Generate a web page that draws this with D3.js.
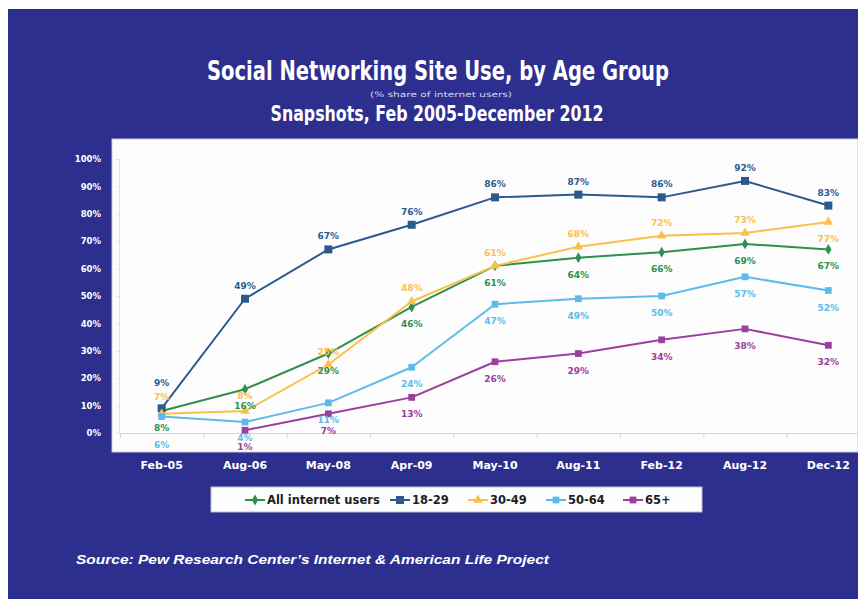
<!DOCTYPE html>
<html>
<head>
<meta charset="utf-8">
<script src="https://cdn.jsdelivr.net/npm/d3@7"></script>
<style>
  body { margin: 0; background: #ffffff; }
  svg { display: block; }
</style>
</head>
<body>
<svg id="chart" width="858" height="599"></svg>
<script>
// Survey dates (x categories)
const categories = ["Feb-05", "Aug-06", "May-08", "Apr-09", "May-10", "Aug-11", "Feb-12", "Aug-12", "Dec-12"];

// Share of internet users who use social networking sites (%)
const allUsers   = [8, 16, 29, 46, 61, 64, 66, 69, 67];
const ages18to29 = [9, 49, 67, 76, 86, 87, 86, 92, 83];
const ages30to49 = [7, 8, 25, 48, 61, 68, 72, 73, 77];
const ages50to64 = [6, 4, 11, 24, 47, 49, 50, 57, 52];
const ages65plus = [null, 1, 7, 13, 26, 29, 34, 38, 32];

const seriesNames = ["All internet users", "18-29", "30-49", "50-64", "65+"];
const yTicks = [0, 10, 20, 30, 40, 50, 60, 70, 80, 90, 100];

const titleText = "Social Networking Site Use, by Age Group";
const subtitleText = "(% share of internet users)";
const snapshotText = "Snapshots, Feb 2005-December 2012";
const sourceText = "Source:  Pew Research Center\u2019s Internet & American Life Project";

// Presentation of each series; labelDy overrides the default label offset
// where neighbouring labels would otherwise collide.
const series = [
  { name: seriesNames[0], values: allUsers,   color: "#2f8f4c", symbol: d3.symbolDiamond,  size: 34, label: "below", labelDy: { 0: 20 } },
  { name: seriesNames[1], values: ages18to29, color: "#2b5a8e", symbol: d3.symbolSquare,   size: 64, label: "above", labelDy: { 0: -22 } },
  { name: seriesNames[2], values: ages30to49, color: "#f9c04c", symbol: d3.symbolTriangle, size: 38, label: "above", labelDy: { 0: -14, 1: -12, 8: 20 } },
  { name: seriesNames[3], values: ages50to64, color: "#5cbbe9", symbol: d3.symbolSquare,   size: 46, label: "below", labelDy: { 0: 31, 1: 19 } },
  { name: seriesNames[4], values: ages65plus, color: "#9a3f9e", symbol: d3.symbolSquare,   size: 46, label: "below", labelDy: { 1: 20 } }
];

const svg = d3.select("#chart");
const W = 858, H = 599;
const BG = "#2d2f8f";

// Page background and blue panel
svg.append("rect").attr("x", 0).attr("y", 0).attr("width", W).attr("height", H).attr("fill", "#ffffff");
svg.append("rect").attr("x", 8).attr("y", 9).attr("width", W - 8).attr("height", H - 9).attr("fill", BG);

// Titles
const titleFont = "'DejaVu Sans', sans-serif";
svg.append("text")
  .attr("x", 438).attr("y", 80)
  .attr("text-anchor", "middle")
  .attr("fill", "#ffffff")
  .attr("font-family", titleFont)
  .attr("font-weight", "bold")
  .attr("font-size", 27)
  .attr("textLength", 462)
  .attr("lengthAdjust", "spacingAndGlyphs")
  .text(titleText);

svg.append("text")
  .attr("x", 441).attr("y", 97)
  .attr("text-anchor", "middle")
  .attr("fill", "#d8d8ee")
  .attr("font-family", titleFont)
  .attr("font-size", 7.5)
  .attr("textLength", 142)
  .attr("lengthAdjust", "spacingAndGlyphs")
  .text(subtitleText);

svg.append("text")
  .attr("x", 437).attr("y", 121)
  .attr("text-anchor", "middle")
  .attr("fill", "#ffffff")
  .attr("font-family", titleFont)
  .attr("font-weight", "bold")
  .attr("font-size", 21)
  .attr("textLength", 333)
  .attr("lengthAdjust", "spacingAndGlyphs")
  .text(snapshotText);

// Plot panel
const plot = { left: 112, top: 139, right: 858, bottom: 452 };
svg.append("rect")
  .attr("x", plot.left).attr("y", plot.top)
  .attr("width", plot.right - plot.left).attr("height", plot.bottom - plot.top)
  .attr("fill", "#fdfdfd")
  .attr("stroke", "#c9c9e6").attr("stroke-width", 1);

// Scales
const x = d3.scaleBand().domain(categories).range([120, 870]).padding(0);
const cx = c => x(c) + x.bandwidth() / 2;
const y = d3.scaleLinear().domain([0, 100]).range([433, 159]);

// Faint inner axes
const innerLeft = svg.append("g")
  .attr("transform", "translate(119,0)")
  .call(d3.axisLeft(y).tickValues(yTicks).tickSize(3).tickFormat(""));
innerLeft.selectAll("path, line").attr("stroke", "#e2e2e2");

const edge = d3.scaleLinear().domain([0, categories.length]).range([120, 870]);
const innerBottom = svg.append("g")
  .attr("transform", "translate(0,433)")
  .call(d3.axisBottom(edge).tickValues(d3.range(0, categories.length + 1)).tickSize(5).tickFormat(""));
innerBottom.selectAll("path, line").attr("stroke", "#d6d6d6");

// Outer tick labels on the blue panel
const yAxis = svg.append("g")
  .attr("transform", "translate(101,0)")
  .call(d3.axisLeft(y).tickValues(yTicks).tickSize(0).tickPadding(0).tickFormat(d => d + "%"));
yAxis.select(".domain").remove();
yAxis.selectAll("text")
  .attr("fill", "#ffffff")
  .attr("font-family", titleFont)
  .attr("font-weight", "bold")
  .attr("font-size", 8.5);

const xAxis = svg.append("g")
  .attr("transform", `translate(0,${plot.bottom})`)
  .call(d3.axisBottom(x).tickSize(0).tickPadding(9));
xAxis.select(".domain").remove();
xAxis.selectAll("text")
  .attr("fill", "#ffffff")
  .attr("font-family", titleFont)
  .attr("font-weight", "bold")
  .attr("font-size", 11);

// Lines, markers and value labels
const line = d3.line()
  .defined(d => d.v != null)
  .x(d => cx(d.c))
  .y(d => y(d.v));

const layer = svg.append("g");
series.forEach(s => {
  const pts = categories.map((c, i) => ({ c, v: s.values[i], i }));
  const g = layer.append("g");
  g.append("path")
    .datum(pts)
    .attr("d", line)
    .attr("fill", "none")
    .attr("stroke", s.color)
    .attr("stroke-width", 2)
    .attr("stroke-linejoin", "round");
  g.selectAll("path.mk")
    .data(pts.filter(p => p.v != null))
    .join("path")
    .attr("class", "mk")
    .attr("d", d3.symbol().type(s.symbol).size(s.size))
    .attr("transform", p => `translate(${cx(p.c)},${y(p.v)})`)
    .attr("fill", s.color);
  s.pts = pts;
});

const labelLayer = svg.append("g");
series.forEach(s => {
  labelLayer.selectAll(null)
    .data(s.pts.filter(p => p.v != null))
    .join("text")
    .attr("x", p => cx(p.c))
    .attr("y", p => {
      if (s.labelDy && s.labelDy[p.i] != null) return y(p.v) + s.labelDy[p.i];
      return s.label === "above" ? y(p.v) - 10 : y(p.v) + 20;
    })
    .attr("text-anchor", "middle")
    .attr("fill", s.color)
    .attr("font-family", titleFont)
    .attr("font-weight", "bold")
    .attr("font-size", 9)
    .text(p => p.v + "%");
});

// Legend
const legend = svg.append("g");
legend.append("rect")
  .attr("x", 211).attr("y", 487).attr("width", 491).attr("height", 25)
  .attr("fill", "#fdfdfd").attr("stroke", "#bdbdd8").attr("stroke-width", 1);

const legendX = [245, 390, 468, 546, 623];
series.forEach((s, i) => {
  const gx = legendX[i], gy = 500;
  legend.append("line")
    .attr("x1", gx).attr("x2", gx + 20).attr("y1", gy).attr("y2", gy)
    .attr("stroke", s.color).attr("stroke-width", 2);
  legend.append("path")
    .attr("d", d3.symbol().type(s.symbol).size(s.size))
    .attr("transform", `translate(${gx + 10},${gy})`)
    .attr("fill", s.color);
  legend.append("text")
    .attr("x", gx + 22).attr("y", gy + 4)
    .attr("fill", "#1e1e1e")
    .attr("font-family", titleFont)
    .attr("font-weight", "bold")
    .attr("font-size", 11.5)
    .text(s.name);
});

// Source note
svg.append("text")
  .attr("x", 76).attr("y", 564)
  .attr("fill", "#ffffff")
  .attr("font-family", "'Liberation Sans', Arial, sans-serif")
  .attr("font-weight", "bold")
  .attr("font-style", "italic")
  .attr("font-size", 13.5)
  .attr("textLength", 473)
  .attr("lengthAdjust", "spacingAndGlyphs")
  .text(sourceText);
</script>
</body>
</html>
